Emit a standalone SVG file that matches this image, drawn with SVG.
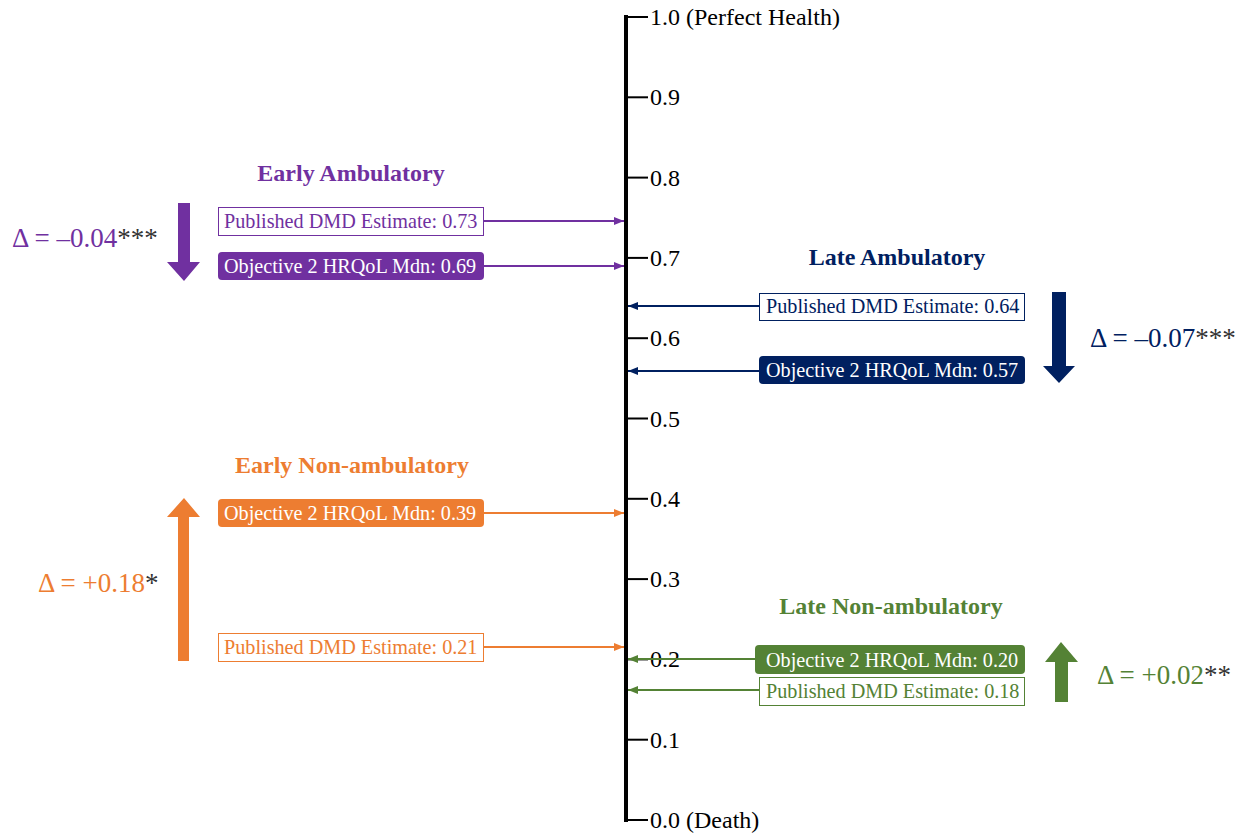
<svg xmlns="http://www.w3.org/2000/svg" width="1245" height="834" viewBox="0 0 1245 834">
<defs>
<style>
text{font-family:"Liberation Serif","Times New Roman",serif}
.tick{stroke:#000;stroke-width:2}
.tl{font-size:24px;fill:#000}
.hd{font-size:24px;font-weight:bold;text-anchor:middle}
.bx{font-size:20.2px}
.dl{font-size:27px}
.ast{fill:#333}
</style>
<marker id="mp" viewBox="0 0 10 10" refX="10" refY="5" markerWidth="5" markerHeight="5" orient="auto"><path d="M0,1 L10,5 L0,9 z" fill="#7030A0"/></marker>
<marker id="mn" viewBox="0 0 10 10" refX="10" refY="5" markerWidth="5" markerHeight="5" orient="auto"><path d="M0,1 L10,5 L0,9 z" fill="#002060"/></marker>
<marker id="mo" viewBox="0 0 10 10" refX="10" refY="5" markerWidth="5" markerHeight="5" orient="auto"><path d="M0,1 L10,5 L0,9 z" fill="#ED7D31"/></marker>
<marker id="mg" viewBox="0 0 10 10" refX="10" refY="5" markerWidth="5" markerHeight="5" orient="auto"><path d="M0,1 L10,5 L0,9 z" fill="#548235"/></marker>
</defs>
<rect width="1245" height="834" fill="#fff"/>
<g id="axis">
<line x1="626" y1="15" x2="626" y2="822" stroke="#000" stroke-width="4"/>
<line class="tick" x1="626" y1="17" x2="648" y2="17"/>
<line class="tick" x1="626" y1="97.3" x2="648" y2="97.3"/>
<line class="tick" x1="626" y1="177.6" x2="648" y2="177.6"/>
<line class="tick" x1="626" y1="257.9" x2="648" y2="257.9"/>
<line class="tick" x1="626" y1="338.2" x2="648" y2="338.2"/>
<line class="tick" x1="626" y1="418.5" x2="648" y2="418.5"/>
<line class="tick" x1="626" y1="498.8" x2="648" y2="498.8"/>
<line class="tick" x1="626" y1="579.1" x2="648" y2="579.1"/>
<line class="tick" x1="626" y1="659.4" x2="648" y2="659.4"/>
<line class="tick" x1="626" y1="739.7" x2="648" y2="739.7"/>
<line class="tick" x1="626" y1="820" x2="648" y2="820"/>
<text class="tl" x="650" y="25">1.0 (Perfect Health)</text>
<text class="tl" x="650" y="105.3">0.9</text>
<text class="tl" x="650" y="185.6">0.8</text>
<text class="tl" x="650" y="265.9">0.7</text>
<text class="tl" x="650" y="346.2">0.6</text>
<text class="tl" x="650" y="426.5">0.5</text>
<text class="tl" x="650" y="506.8">0.4</text>
<text class="tl" x="650" y="587.1">0.3</text>
<text class="tl" x="650" y="667.4">0.2</text>
<text class="tl" x="650" y="747.7">0.1</text>
<text class="tl" x="650" y="828">0.0 (Death)</text>
</g>
<g id="connectors" stroke-width="2" fill="none">
<line x1="484" y1="221" x2="624" y2="221" stroke="#7030A0" marker-end="url(#mp)"/>
<line x1="484" y1="266" x2="624" y2="266" stroke="#7030A0" marker-end="url(#mp)"/>
<line x1="759" y1="306" x2="628" y2="306" stroke="#002060" marker-end="url(#mn)"/>
<line x1="759" y1="371" x2="628" y2="371" stroke="#002060" marker-end="url(#mn)"/>
<line x1="484" y1="513" x2="624" y2="513" stroke="#ED7D31" marker-end="url(#mo)"/>
<line x1="484" y1="647" x2="624" y2="647" stroke="#ED7D31" marker-end="url(#mo)"/>
<line x1="755" y1="659" x2="628" y2="659" stroke="#548235" marker-end="url(#mg)"/>
<line x1="759" y1="690" x2="628" y2="690" stroke="#548235" marker-end="url(#mg)"/>
</g>
<g id="early-ambulatory">
<text class="hd" x="351" y="181" fill="#7030A0">Early Ambulatory</text>
<rect x="218.5" y="207.5" width="265" height="28" fill="#fff" stroke="#7030A0" stroke-width="1"/>
<text class="bx" x="224" y="228" fill="#7030A0">Published DMD Estimate: 0.73</text>
<rect x="218" y="252" width="266" height="28" rx="4" fill="#7030A0"/>
<text class="bx" x="224" y="273" fill="#fff">Objective 2 HRQoL Mdn: 0.69</text>
<path d="M178,203 H190 V262 H200 L184,281 L167,262 H178 Z" fill="#7030A0"/>
<text class="dl" x="12" y="247" fill="#7030A0">Δ = –0.04<tspan class="ast">***</tspan></text>
</g>
<g id="late-ambulatory">
<text class="hd" x="897" y="265" fill="#002060">Late Ambulatory</text>
<rect x="759.5" y="293.5" width="265" height="27" fill="#fff" stroke="#002060" stroke-width="1"/>
<text class="bx" x="766" y="313" fill="#002060">Published DMD Estimate: 0.64</text>
<rect x="759" y="356" width="266" height="28" rx="4" fill="#002060"/>
<text class="bx" x="766" y="377" fill="#fff">Objective 2 HRQoL Mdn: 0.57</text>
<path d="M1052,292 H1066 V366 H1075 L1059,383 L1043,366 H1052 Z" fill="#002060"/>
<text class="dl" x="1090" y="347" fill="#002060">Δ = –0.07<tspan class="ast">***</tspan></text>
</g>
<g id="early-non-ambulatory">
<text class="hd" x="352" y="473" fill="#ED7D31">Early Non-ambulatory</text>
<rect x="218" y="499" width="266" height="28" rx="4" fill="#ED7D31"/>
<text class="bx" x="224" y="520" fill="#fff">Objective 2 HRQoL Mdn: 0.39</text>
<rect x="218.5" y="633.5" width="265" height="28" fill="#fff" stroke="#ED7D31" stroke-width="1"/>
<text class="bx" x="224" y="654" fill="#ED7D31">Published DMD Estimate: 0.21</text>
<path d="M178,661 H189 V517 H200 L184,498 L167,517 H178 Z" fill="#ED7D31"/>
<text class="dl" x="38" y="592" fill="#ED7D31">Δ = +0.18<tspan class="ast">*</tspan></text>
</g>
<g id="late-non-ambulatory">
<text class="hd" x="891" y="614" fill="#548235">Late Non-ambulatory</text>
<rect x="755" y="645" width="270" height="29" rx="4" fill="#548235"/>
<text class="bx" x="766" y="667" fill="#fff">Objective 2 HRQoL Mdn: 0.20</text>
<rect x="759.5" y="677.5" width="265" height="28" fill="#fff" stroke="#548235" stroke-width="1"/>
<text class="bx" x="766" y="698" fill="#548235">Published DMD Estimate: 0.18</text>
<path d="M1055,702 H1068 V662 H1078 L1061,642 L1045,662 H1055 Z" fill="#548235"/>
<text class="dl" x="1097" y="684" fill="#548235">Δ = +0.02<tspan class="ast">**</tspan></text>
</g>
</svg>
